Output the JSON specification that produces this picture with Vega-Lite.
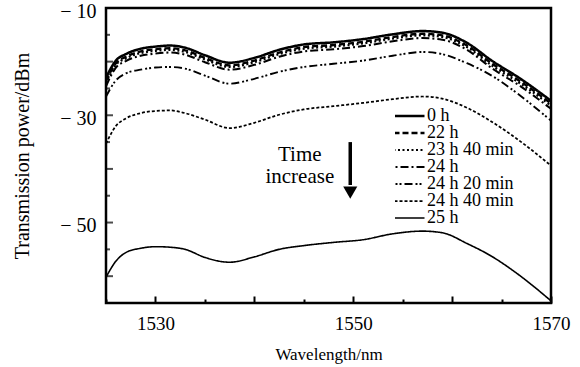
{
  "$schema": "https://vega.github.io/schema/vega-lite/v6.json",
  "autosize": "none",
  "width": 445,
  "height": 295,
  "padding": {"left": 106, "top": 8, "right": 29, "bottom": 64},
  "background": "white",
  "config": {
    "font": "Liberation Serif",
    "view": {"stroke": "black", "strokeWidth": 2.5},
    "axis": {"domain": false, "grid": false, "tickColor": "black", "tickWidth": 2, "labelColor": "black", "titleColor": "black", "titleFontWeight": "normal", "labelFont": "Liberation Serif", "titleFont": "Liberation Serif", "labelOverlap": false}
  },
  "datasets": {
    "curves": [
      {"w": 1525, "0 h": -23.0, "22 h": -23.6, "23 h 40 min": -24.0, "24 h": -24.6, "24 h 20 min": -26.5, "24 h 40 min": -35.3, "25 h": -60.2},
      {"w": 1526, "0 h": -19.8, "22 h": -20.3, "23 h 40 min": -20.6, "24 h": -21.1, "24 h 20 min": -23.5, "24 h 40 min": -32.0, "25 h": -57.2},
      {"w": 1527, "0 h": -18.6, "22 h": -19.1, "23 h 40 min": -19.4, "24 h": -19.9, "24 h 20 min": -22.2, "24 h 40 min": -30.6, "25 h": -55.6},
      {"w": 1528.5, "0 h": -17.6, "22 h": -18.1, "23 h 40 min": -18.4, "24 h": -18.9, "24 h 20 min": -21.5, "24 h 40 min": -29.6, "25 h": -54.8},
      {"w": 1530, "0 h": -17.2, "22 h": -17.7, "23 h 40 min": -18.0, "24 h": -18.5, "24 h 20 min": -21.1, "24 h 40 min": -29.2, "25 h": -54.5},
      {"w": 1531.5, "0 h": -17.0, "22 h": -17.5, "23 h 40 min": -17.8, "24 h": -18.3, "24 h 20 min": -21.0, "24 h 40 min": -29.1, "25 h": -54.6},
      {"w": 1533, "0 h": -17.4, "22 h": -17.9, "23 h 40 min": -18.2, "24 h": -18.7, "24 h 20 min": -21.3, "24 h 40 min": -29.6, "25 h": -55.0},
      {"w": 1535, "0 h": -18.8, "22 h": -19.3, "23 h 40 min": -19.6, "24 h": -20.1, "24 h 20 min": -22.6, "24 h 40 min": -30.8, "25 h": -56.5},
      {"w": 1537.5, "0 h": -20.2, "22 h": -20.7, "23 h 40 min": -21.0, "24 h": -21.5, "24 h 20 min": -24.1, "24 h 40 min": -32.4, "25 h": -57.4},
      {"w": 1540, "0 h": -19.3, "22 h": -19.8, "23 h 40 min": -20.1, "24 h": -20.6, "24 h 20 min": -23.2, "24 h 40 min": -31.4, "25 h": -56.4},
      {"w": 1542.5, "0 h": -17.8, "22 h": -18.3, "23 h 40 min": -18.6, "24 h": -19.1, "24 h 20 min": -21.9, "24 h 40 min": -29.9, "25 h": -55.0},
      {"w": 1545, "0 h": -16.8, "22 h": -17.3, "23 h 40 min": -17.6, "24 h": -18.1, "24 h 20 min": -21.0, "24 h 40 min": -28.9, "25 h": -54.3},
      {"w": 1548, "0 h": -16.4, "22 h": -16.9, "23 h 40 min": -17.2, "24 h": -17.7, "24 h 20 min": -20.4, "24 h 40 min": -28.3, "25 h": -53.7},
      {"w": 1551, "0 h": -15.8, "22 h": -16.3, "23 h 40 min": -16.6, "24 h": -17.1, "24 h 20 min": -19.8, "24 h 40 min": -27.7, "25 h": -53.2},
      {"w": 1554, "0 h": -14.9, "22 h": -15.4, "23 h 40 min": -15.7, "24 h": -16.2, "24 h 20 min": -18.9, "24 h 40 min": -27.0, "25 h": -52.1},
      {"w": 1557, "0 h": -14.3, "22 h": -14.8, "23 h 40 min": -15.1, "24 h": -15.6, "24 h 20 min": -18.2, "24 h 40 min": -26.5, "25 h": -51.6},
      {"w": 1559, "0 h": -14.6, "22 h": -15.1, "23 h 40 min": -15.4, "24 h": -15.9, "24 h 20 min": -18.6, "24 h 40 min": -26.9, "25 h": -51.9},
      {"w": 1561.5, "0 h": -16.5, "22 h": -17.0, "23 h 40 min": -17.3, "24 h": -17.8, "24 h 20 min": -20.3, "24 h 40 min": -28.6, "25 h": -53.9},
      {"w": 1564, "0 h": -19.8, "22 h": -20.3, "23 h 40 min": -20.7, "24 h": -21.2, "24 h 20 min": -22.6, "24 h 40 min": -31.2, "25 h": -56.3},
      {"w": 1567, "0 h": -23.3, "22 h": -23.8, "23 h 40 min": -24.2, "24 h": -24.7, "24 h 20 min": -26.5, "24 h 40 min": -35.0, "25 h": -60.1},
      {"w": 1570, "0 h": -27.3, "22 h": -27.8, "23 h 40 min": -28.2, "24 h": -28.8, "24 h 20 min": -31.0, "24 h 40 min": -39.4, "25 h": -64.6}
    ],
    "yticks": [
      {"yt": -60, "k": "major"}, {"yt": -55, "k": "minor"}, {"yt": -50, "k": "major"}, {"yt": -45, "k": "minor"},
      {"yt": -40, "k": "major"}, {"yt": -35, "k": "minor"}, {"yt": -30, "k": "major"}, {"yt": -25, "k": "minor"},
      {"yt": -20, "k": "major"}, {"yt": -15, "k": "minor"}, {"yt": -10, "k": "major"}
    ],
    "notes": [
      {"w": 1544.6, "p": -37.4, "txt": "Time"},
      {"w": 1544.6, "p": -41.6, "txt": "increase"}
    ],
    "arrow": [
      {"w": 1549.7, "p1": -35.0, "p2": -43.0, "tip": -44.4}
    ]
  },
  "layer": [
    {
      "data": {"name": "curves"},
      "transform": [{"fold": ["0 h", "22 h", "23 h 40 min", "24 h", "24 h 20 min", "24 h 40 min", "25 h"], "as": ["series", "p"]}],
      "mark": {"type": "line", "color": "black", "interpolate": "monotone", "clip": true},
      "encoding": {
        "x": {"field": "w", "type": "quantitative",
          "scale": {"domain": [1525, 1570], "nice": false, "zero": false},
          "axis": {"title": "Wavelength/nm", "format": "d", "values": [1525, 1530, 1535, 1540, 1545, 1550, 1555, 1560, 1565, 1570],
            "labelExpr": "datum.value == 1530 || datum.value == 1550 || datum.value == 1570 ? datum.label : ''",
            "tickSize": {"condition": {"test": "datum.value % 10 == 0", "value": -7}, "value": -4},
            "labelPadding": 18, "labelFontSize": 19, "titleFontSize": 17, "titlePadding": 10, "labelFlush": false, "labelOverlap": false}},
        "y": {"field": "p", "type": "quantitative",
          "scale": {"domain": [-65, -10], "nice": false, "zero": false},
          "axis": {"title": "Transmission power/dBm", "values": [-50, -30, -10], "ticks": false,
            "labelExpr": "'− ' + (0 - datum.value)",
            "labelPadding": 10, "labelOffset": 3, "labelFontSize": 20, "titleFontSize": 20, "titlePadding": 27, "labelFlush": false, "labelOverlap": false}},
        "strokeDash": {"field": "series", "type": "nominal",
          "scale": {"domain": ["0 h", "22 h", "23 h 40 min", "24 h", "24 h 20 min", "24 h 40 min", "25 h"],
            "range": [[1, 0], [6, 3], [2, 2.5], [8, 3, 2, 3], [8, 3, 2, 2, 2, 3], [3, 2], [1, 0]]},
          "legend": {"title": null, "orient": "none", "legendX": 289, "legendY": 100, "padding": 0, "columns": 1,
            "symbolType": "M-2.5,0H2.5", "symbolSize": 256, "symbolStrokeColor": "black", "labelFontSize": 18, "labelColor": "black", "labelOffset": 13, "rowPadding": -1, "clipHeight": 16, "labelLimit": 300}},
        "strokeWidth": {"field": "series", "type": "nominal",
          "scale": {"domain": ["0 h", "22 h", "23 h 40 min", "24 h", "24 h 20 min", "24 h 40 min", "25 h"],
            "range": [2.5, 1.6, 1.8, 1.6, 1.5, 1.5, 1.3]},
          "legend": {"title": null, "orient": "none", "legendX": 289, "legendY": 100, "padding": 0, "columns": 1,
            "symbolType": "M-2.5,0H2.5", "symbolSize": 256, "symbolStrokeColor": "black", "labelFontSize": 18, "labelColor": "black", "labelOffset": 13, "rowPadding": -1, "clipHeight": 16, "labelLimit": 300}}
      }
    },
    {
      "data": {"name": "yticks"},
      "mark": {"type": "tick", "orient": "horizontal", "color": "black", "thickness": 2, "clip": true},
      "encoding": {
        "x": {"datum": 1525, "type": "quantitative"},
        "y": {"field": "yt", "type": "quantitative"},
        "size": {"field": "k", "type": "nominal", "scale": {"domain": ["major", "minor"], "range": [14, 8]}, "legend": null}
      }
    },
    {
      "data": {"name": "notes"},
      "mark": {"type": "text", "fontSize": 21, "color": "black", "font": "Liberation Serif"},
      "encoding": {
        "x": {"field": "w", "type": "quantitative"},
        "y": {"field": "p", "type": "quantitative"},
        "text": {"field": "txt"}
      }
    },
    {
      "data": {"name": "arrow"},
      "mark": {"type": "rule", "color": "black", "strokeWidth": 3.5},
      "encoding": {
        "x": {"field": "w", "type": "quantitative"},
        "y": {"field": "p1", "type": "quantitative"},
        "y2": {"field": "p2"}
      }
    },
    {
      "data": {"name": "arrow"},
      "mark": {"type": "point", "shape": "triangle-down", "filled": true, "color": "black", "size": 200, "opacity": 1},
      "encoding": {
        "x": {"field": "w", "type": "quantitative"},
        "y": {"field": "tip", "type": "quantitative"}
      }
    }
  ]
}
